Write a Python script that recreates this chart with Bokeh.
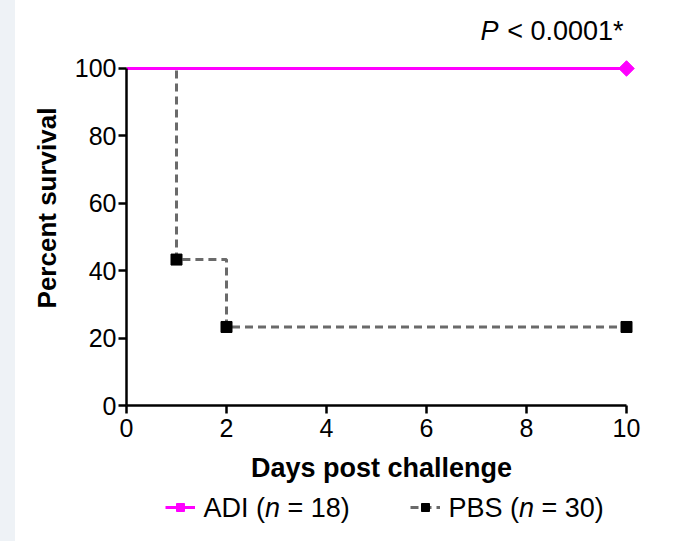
from bokeh.plotting import figure
from bokeh.models import Legend, LegendItem, Label, Div, FixedTicker
from bokeh.layouts import row, column
from bokeh.embed import file_html
from bokeh.resources import INLINE
from math import pi

# Data
adi_days = [0, 10]
adi_surv = [100, 100]
adi_mark_days = [10]
adi_mark_surv = [100]

pbs_days = [0, 1, 2, 10]
pbs_surv = [100, 43.3, 23.3, 23.3]
pbs_mark_days = [1, 2, 10]
pbs_mark_surv = [43.3, 23.3, 23.3]

x_ticks = [0, 2, 4, 6, 8, 10]
y_ticks = [0, 20, 40, 60, 80, 100]

# legend text pieces: (group name, n)
legend_groups = ["ADI", "PBS"]
legend_n = [18, 30]

FONT = "Liberation Sans"
MAGENTA = "#ff00ff"
GRAY = "#6a6a6a"
FS = 27  # px, legend / annotation font size

# --- main plot ---
p = figure(frame_width=510, frame_height=395, x_range=(0, 10.2), y_range=(0, 117.2),
           output_backend="svg", toolbar_location=None,
           min_border_left=111, min_border_right=58, min_border_top=10, min_border_bottom=86)
p.outline_line_color = None
p.grid.visible = False
p.background_fill_color = "white"
p.border_fill_color = "white"

pbs_line = p.step(pbs_days, pbs_surv, mode="after", line_color=GRAY, line_width=3, line_dash="8 5")
pbs_pts = p.scatter(pbs_mark_days, pbs_mark_surv, marker="square", size=11, color="black")
adi_line = p.line(adi_days, adi_surv, line_color=MAGENTA, line_width=3)
adi_pts = p.scatter(adi_mark_days, adi_mark_surv, marker="square", angle=pi/4, size=11, color=MAGENTA)

for ax, ticks, bounds in ((p.xaxis, x_ticks, (0, 10)), (p.yaxis, y_ticks, (0, 100))):
    ax.bounds = bounds
    ax.ticker = FixedTicker(ticks=ticks)
    ax.minor_tick_line_color = None
    ax.major_tick_in = 0
    ax.major_tick_out = 8
    ax.major_tick_line_width = 2.5
    ax.axis_line_width = 2.5
    ax.axis_line_color = "black"
    ax.major_tick_line_color = "black"
    ax.major_label_text_font = FONT
    ax.major_label_text_font_size = "25px"
    ax.major_label_text_color = "black"
    ax.axis_label_text_font = FONT
    ax.axis_label_text_font_style = "bold"
    ax.axis_label_text_color = "black"

p.xaxis.axis_label = "Days post challenge"
p.xaxis.axis_label_text_font_size = "27px"
p.xaxis.major_label_standoff = 5
p.xaxis.axis_label_standoff = 13
p.yaxis.axis_label = "Percent survival"
p.yaxis.axis_label_text_font_size = "26px"
p.yaxis.major_label_standoff = 2
p.yaxis.axis_label_standoff = 10

p.add_layout(Label(x=9.94, y=111.0, text="< 0.0001*", text_align="right",
                   text_baseline="alphabetic", text_font=FONT, text_font_size=f"{FS}px",
                   text_color="black"))
p.add_layout(Label(x=7.08, y=111.0, text="P", text_align="left",
                   text_baseline="alphabetic", text_font=FONT, text_font_size=f"{FS}px",
                   text_font_style="italic", text_color="black"))

# --- legend strip below the plot (pixel-unit ranges over its frame, offset by 1000) ---
O = 1000
leg = figure(frame_width=510, frame_height=50, x_range=(O, O + 510), y_range=(O, O + 50),
             x_axis_type=None, y_axis_type=None,
             output_backend="svg", toolbar_location=None,
             min_border_left=111, min_border_right=58, min_border_top=0, min_border_bottom=0)
leg.grid.visible = False
leg.outline_line_color = None
# legend samples (their data lies outside this strip's ranges, only the legend keys show them)
l_adi_line = leg.line(adi_days, adi_surv, line_color=MAGENTA, line_width=3)
l_adi_pts = leg.scatter(adi_mark_days, adi_mark_surv, marker="square", angle=pi/4, size=11, color=MAGENTA)
l_pbs_line = leg.line(pbs_days, pbs_surv, line_color=GRAY, line_width=3, line_dash="8 5")
l_pbs_pts = leg.scatter(pbs_mark_days, pbs_mark_surv, marker="square", size=11, color="black")


def key(renderers, x):
    lg = Legend(items=[LegendItem(label=" ", renderers=renderers)],
                orientation="horizontal", location=(x, 24))
    lg.glyph_width = 30
    lg.glyph_height = 20
    lg.label_height = 20
    lg.label_standoff = 0
    lg.label_text_font_size = "1px"
    lg.border_line_color = None
    lg.background_fill_alpha = 0
    lg.padding = 0
    lg.margin = 0
    leg.add_layout(lg)


key([l_adi_line, l_adi_pts], 39)
key([l_pbs_line, l_pbs_pts], 284)

# legend texts with italic n: widths from Arial/Liberation metrics (em)
EM = FS
text_x = [77, 322]
prefix_em = [2.278, 2.612]  # "ADI (" , "PBS ("
for grp, n, x0, pem in zip(legend_groups, legend_n, text_x, prefix_em):
    x_n = x0 + pem * EM
    x_rest = x_n + (0.556 + 0.278) * EM
    for txt, xx, style in ((f"{grp} (", x0, "normal"), ("n", x_n, "italic"), (f"= {n})", x_rest, "normal")):
        leg.add_layout(Label(x=O + xx, y=O + 33.5, text=txt, text_align="left", text_baseline="alphabetic",
                             text_font=FONT, text_font_size=f"{FS}px", text_font_style=style,
                             text_color="black"))

strip = Div(width=15, height=541, margin=0, styles={"background-color": "#eef2f6"})
layout = row(strip, column(p, leg, spacing=0), spacing=0)

open("out.html", "w").write(file_html(layout, INLINE))
